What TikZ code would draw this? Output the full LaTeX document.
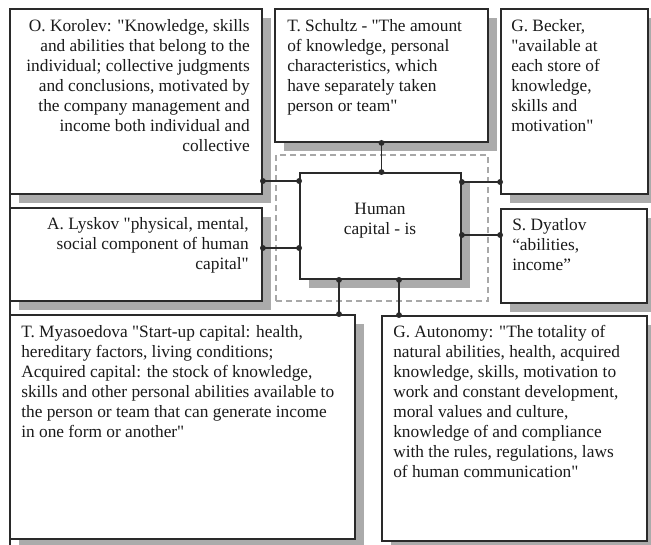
\documentclass[tikz,border=0pt]{standalone}
\usepackage{fontspec}
\setmainfont{Liberation Serif}[Ligatures=TeXOff]
\usetikzlibrary{fit,shadows,decorations.markings}
\newcommand{\dquote}{{\char34}}
\definecolor{boxline}{HTML}{2A2A2A}
\definecolor{shgray}{HTML}{ABABAB}
\definecolor{dashgray}{HTML}{A8A8A8}
\definecolor{txt}{HTML}{1A1A1A}
\tikzset{
  box/.style={draw=boxline, line width=1.4pt, fill=white, inner sep=0pt,
    drop shadow={shadow xshift=6.5pt, shadow yshift=-6.5pt, fill=shgray, opacity=1}},
  dashbox/.style={draw=dashgray, line width=0.8pt, dash pattern=on 4.5pt off 3pt, inner sep=0pt},
  conn/.style={draw=boxline, line width=1.1pt,
    postaction={decorate, decoration={markings,
      mark=at position 0 with {\fill[boxline] (0,0) circle (2.2pt);},
      mark=at position 1 with {\fill[boxline] (0,0) circle (2.2pt);}}}},
  txtl/.style={anchor=base west, inner sep=0pt, text=txt, font=\fontsize{13}{15}\selectfont},
  txtr/.style={anchor=base east, inner sep=0pt, text=txt, font=\fontsize{13}{15}\selectfont},
  txtc/.style={anchor=base, inner sep=0pt, text=txt, font=\fontsize{13}{15}\selectfont},
}
\begin{document}
\begin{tikzpicture}[x=0.75pt, y=-0.75pt]
\useasboundingbox (0,0) rectangle (651,545);
% outer left frame line
\draw[boxline, line width=1.4pt] (10,9) -- (10,545);
% dashed frame around the centre
\node[dashbox, fit={(276,155)(488,301)}] (frame) {};
% boxes
\node[box, fit={(10,9)(262,194)}] (kor) {};
\node[box, fit={(275,9)(488,142)}] (sch) {};
\node[box, fit={(501,9)(648,194)}] (bec) {};
\node[box, fit={(10,208)(262,301)}] (lys) {};
\node[box, fit={(501,209)(647,303)}] (dya) {};
\node[box, fit={(300,173)(461,279)}] (hc) {};
\node[box, fit={(10,315)(355,539)}] (mya) {};
\node[box, fit={(382,316)(647,541)}] (aut) {};
% texts
\node[txtr] (kort) at (250,31.5) {\begin{tabular}[t]{@{}r@{}}O. Korolev: \dquote Knowledge, skills\\ and abilities that belong to the\\ individual; collective judgments\\ and conclusions, motivated by\\ the company management and\\ income both individual and\\ collective\end{tabular}};
\node[txtl] (scht) at (287,31.7) {\begin{tabular}[t]{@{}l@{}}T. Schultz - \dquote The amount\\ of knowledge, personal\\ characteristics, which\\ have separately taken\\ person or team\dquote\end{tabular}};
\node[txtl] (bect) at (511,31.7) {\begin{tabular}[t]{@{}l@{}}G. Becker,\\ \dquote available at\\ each store of\\ knowledge,\\ skills and\\ motivation\dquote\end{tabular}};
\node[txtr] (lyst) at (249,229.3) {\begin{tabular}[t]{@{}r@{}}A. Lyskov \dquote physical, mental,\\ social component of human\\ capital\dquote\end{tabular}};
\node[txtl] (dyat) at (512,230.7) {\begin{tabular}[t]{@{}l@{}}S. Dyatlov\\ “abilities,\\ income”\end{tabular}};
\node[txtc] (hct) at (380,215) {\begin{tabular}[t]{@{}c@{}}Human\\ capital - is\end{tabular}};
\node[txtl] (myat) at (21,337.3) {\begin{tabular}[t]{@{}l@{}}T. Myasoedova \dquote Start-up capital: health,\\ hereditary factors, living conditions;\\ Acquired capital: the stock of knowledge,\\ skills and other personal abilities available to\\ the person or team that can generate income\\ in one form or another\dquote\end{tabular}};
\node[txtl] (autt) at (393,337.3) {\begin{tabular}[t]{@{}l@{}}G. Autonomy: \dquote The totality of\\ natural abilities, health, acquired\\ knowledge, skills, motivation to\\ work and constant development,\\ moral values and culture,\\ knowledge of and compliance\\ with the rules, regulations, laws\\ of human communication\dquote\end{tabular}};
% connector levels
\coordinate (y1) at (0,181);
\coordinate (y2) at (0,182);
\coordinate (y3) at (0,248);
\coordinate (y4) at (0,235);
\coordinate (x1) at (339,0);
\coordinate (x2) at (399,0);
% connectors
\draw[conn] (kor.east |- y1) -- (hc.west |- y1);
\draw[conn] (sch.south) -- (sch.south |- hc.north);
\draw[conn] (hc.east |- y2) -- (bec.west |- y2);
\draw[conn] (lys.east |- y3) -- (hc.west |- y3);
\draw[conn] (hc.east |- y4) -- (dya.west |- y4);
\draw[conn] (hc.south -| x1) -- (mya.north -| x1);
\draw[conn] (hc.south -| x2) -- (aut.north -| x2);
\end{tikzpicture}
\end{document}
